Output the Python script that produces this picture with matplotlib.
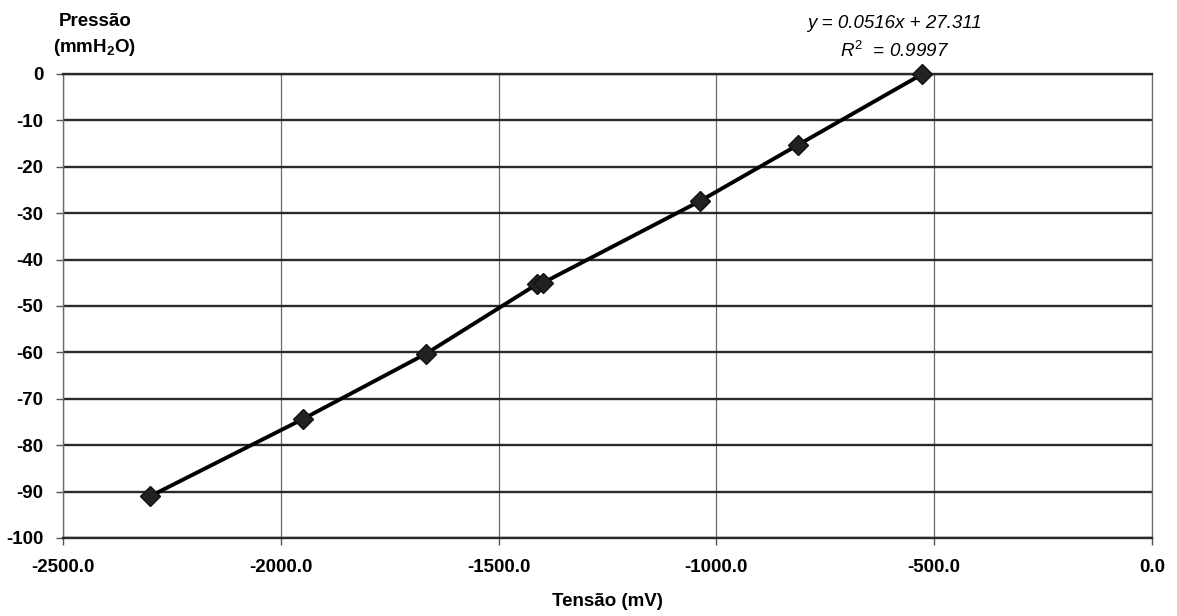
import matplotlib
matplotlib.use("Agg")
import matplotlib.pyplot as plt

plt.rcParams['font.family'] = ['Liberation Sans', 'DejaVu Sans']
plt.rcParams['mathtext.fontset'] = 'custom'
plt.rcParams['mathtext.rm'] = 'Liberation Sans'
plt.rcParams['mathtext.it'] = 'Liberation Sans:italic'
plt.rcParams['mathtext.bf'] = 'Liberation Sans:bold'

# Calibration data: sensor voltage (mV) vs pressure (mmH2O)
tensao_mv = [-2300, -1950, -1667, -1412, -1398, -1038, -813, -527]
pressao_mmh2o = [-91.0, -74.4, -60.3, -45.3, -45.0, -27.4, -15.3, 0.0]

x_ticks = [-2500, -2000, -1500, -1000, -500, 0]
y_ticks = [0, -10, -20, -30, -40, -50, -60, -70, -80, -90, -100]

equation_text = "y = 0.0516x + 27.311"
r2_text = r"$R^{2}$  = 0.9997"

FS = 13.5

fig = plt.figure(figsize=(11.77, 6.16), dpi=100)
ax = fig.add_axes([63 / 1177, 1 - 538 / 616, (1152 - 63) / 1177, (538 - 74) / 616])

ax.set_xlim(-2500, 0)
ax.set_ylim(-100, 0)
ax.set_xticks(x_ticks)
ax.set_yticks(y_ticks)
ax.set_xticklabels([f"{v:.1f}" for v in x_ticks])
ax.set_yticklabels([f"{v}" for v in y_ticks])

for lbl in ax.get_xticklabels() + ax.get_yticklabels():
    lbl.set_fontweight('bold')
    lbl.set_fontsize(FS)

ax.tick_params(axis='both', direction='out', length=5, width=1, color='#555555')
ax.tick_params(axis='x', pad=10)
ax.tick_params(axis='y', pad=9)

ax.yaxis.grid(True, color='#2a2a2a', linewidth=1.7)
ax.xaxis.grid(True, color='#6a6a6a', linewidth=0.9)
ax.set_axisbelow(True)

for side in ['top', 'bottom']:
    ax.spines[side].set_color('#2a2a2a')
    ax.spines[side].set_linewidth(1.7)
ax.spines['left'].set_color('#6a6a6a')
ax.spines['left'].set_linewidth(1.0)
ax.spines['right'].set_color('#6a6a6a')
ax.spines['right'].set_linewidth(0.9)

ax.plot(tensao_mv, pressao_mmh2o, color='black', linewidth=2.8,
        marker='D', markersize=10, markerfacecolor='#222222',
        markeredgecolor='#111111', zorder=3, clip_on=False)

ax.set_xlabel("Tensão (mV)", fontsize=FS, fontweight='bold', labelpad=12)

fig.text(95 / 1177, 1 - 21 / 616, "Pressão", fontsize=FS, fontweight='bold',
         ha='center', va='center')
fig.text(94 / 1177, 1 - 48 / 616, r"(mmH$_\mathbf{2}$O)", fontsize=FS, fontweight='bold',
         ha='center', va='center')

fig.text(894 / 1177, 1 - 23 / 616, equation_text, fontsize=FS, style='italic',
         ha='center', va='center')
fig.text(895 / 1177, 1 - 51 / 616, r2_text, fontsize=FS, style='italic',
         ha='center', va='center')

fig.savefig("out.png", dpi=100, facecolor='white')
